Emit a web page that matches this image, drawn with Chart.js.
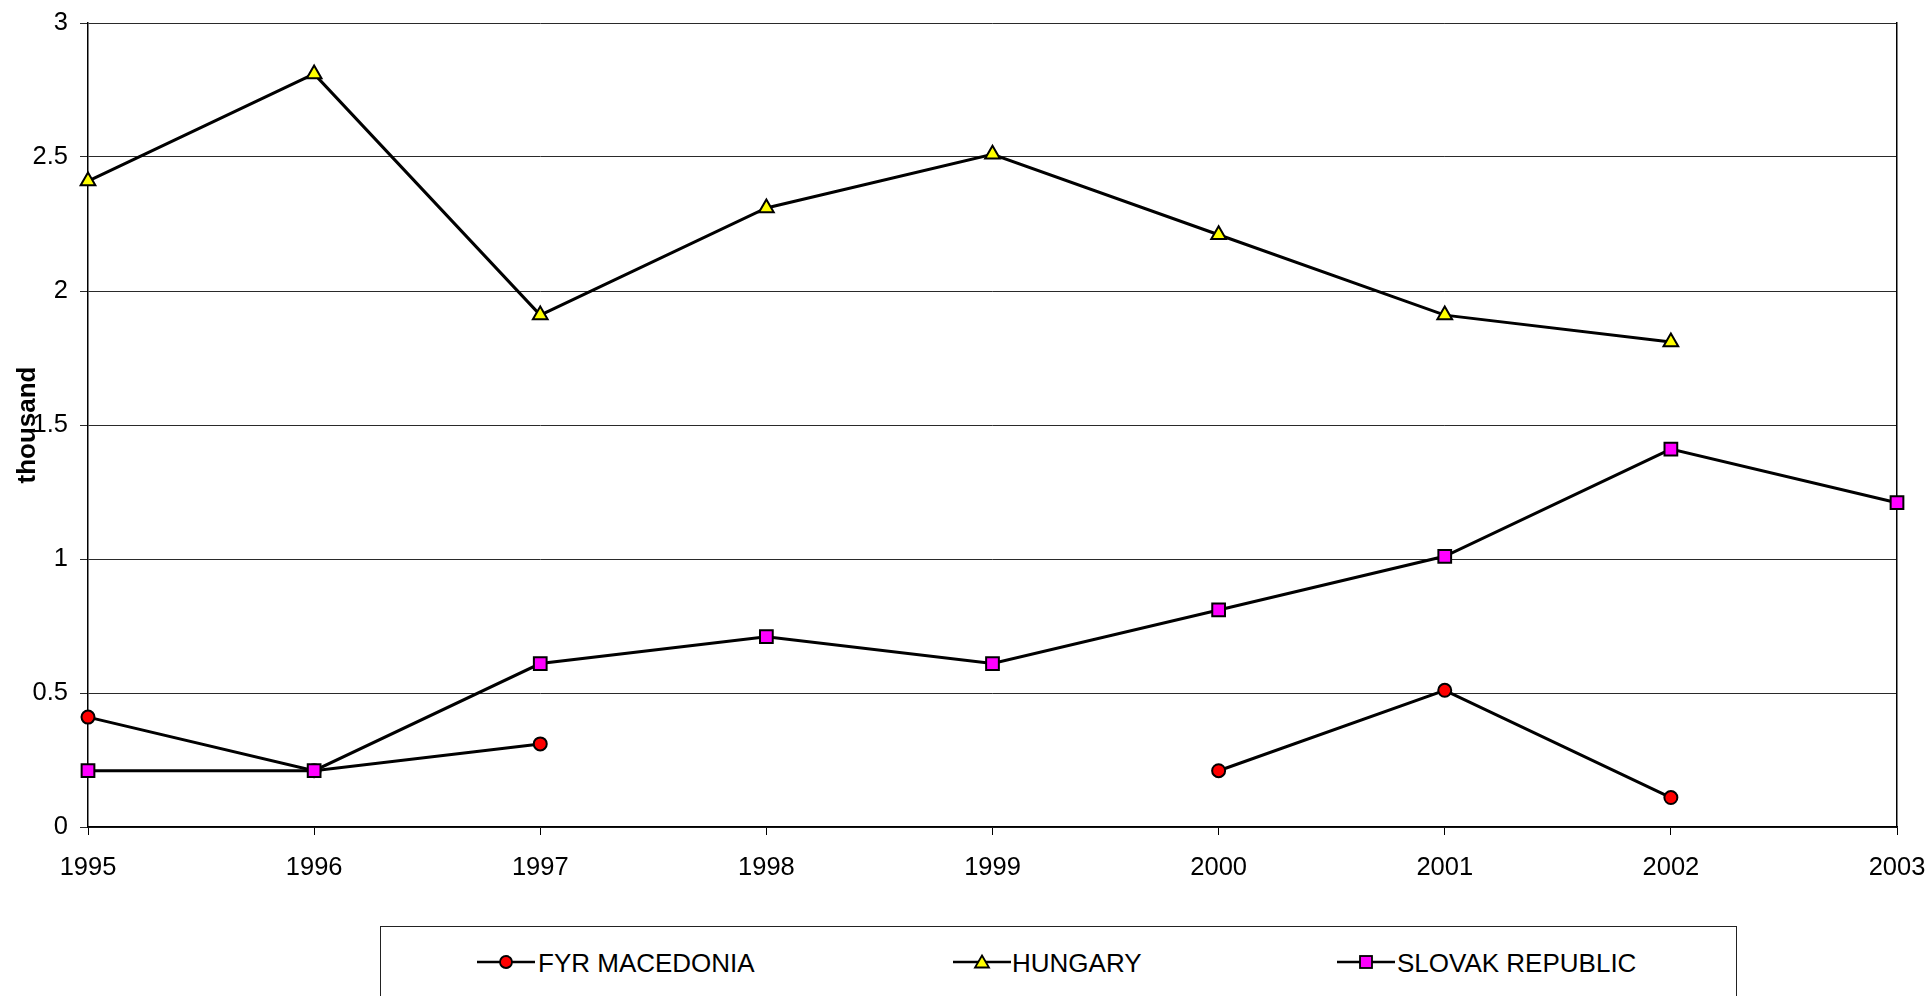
<!DOCTYPE html>
<html>
<head>
<meta charset="utf-8">
<script src="https://cdn.jsdelivr.net/npm/chart.js@4.4.1/dist/chart.umd.min.js"></script>
<style>
  html, body { margin: 0; padding: 0; background: #fff; width: 1930px; height: 996px; overflow: hidden; }
  #wrap { position: absolute; left: 0; top: 0; width: 1930px; height: 996px; }
  #legendBox { position: absolute; left: 380px; top: 926px; width: 1355px; height: 120px; border: 1px solid #222; box-sizing: content-box; }
  .lg { position: absolute; font-family: "Liberation Sans", Arial, sans-serif; font-size: 26px; line-height: 30px; color: #000; white-space: nowrap; }
  .sym { position: absolute; }
  canvas { position: absolute; left: 0; top: 0; }
</style>
</head>
<body>
<div id="wrap">
  <div id="legendBox"></div>
  <div id="legendItems"></div>
  <canvas id="c" width="1930" height="996"></canvas>
</div>
<script>
// ---- data ----
const years = ['1995', '1996', '1997', '1998', '1999', '2000', '2001', '2002', '2003'];
const macedonia = [0.41, 0.21, 0.31, null, null, 0.21, 0.51, 0.11, null];
const hungary = [2.41, 2.81, 1.91, 2.31, 2.51, 2.21, 1.91, 1.81, null];
const slovakia = [0.21, 0.21, 0.61, 0.71, 0.61, 0.81, 1.01, 1.41, 1.21];
const seriesNames = ['FYR MACEDONIA', 'HUNGARY', 'SLOVAK REPUBLIC'];
const yTicks = [0, 0.5, 1, 1.5, 2, 2.5, 3];

const FONT = '"Liberation Sans", Arial, sans-serif';

// ---- legend (HTML) ----
const legendLayout = [
  { sym: 477, text: 538, style: 'circle', fill: '#ff0000' },
  { sym: 953, text: 1012, style: 'triangle', fill: '#ffff00' },
  { sym: 1337, text: 1397, style: 'rect', fill: '#ff00ff' }
];
const li = document.getElementById('legendItems');
legendLayout.forEach((L, i) => {
  const w = 58, h = 20, cx = w / 2, cy = h / 2;
  let marker = '';
  if (L.style === 'circle') marker = `<circle cx="${cx}" cy="${cy}" r="6" fill="${L.fill}" stroke="#000" stroke-width="1.8"/>`;
  if (L.style === 'triangle') marker = `<polygon points="${cx},${cy-6.5} ${cx+7},${cy+5.5} ${cx-7},${cy+5.5}" fill="${L.fill}" stroke="#000" stroke-width="1.8"/>`;
  if (L.style === 'rect') marker = `<rect x="${cx-6}" y="${cy-6}" width="12" height="12" fill="${L.fill}" stroke="#000" stroke-width="1.8"/>`;
  const s = document.createElement('div');
  s.className = 'sym';
  s.style.left = L.sym + 'px';
  s.style.top = (962 - cy) + 'px';
  s.innerHTML = `<svg width="${w}" height="${h}"><line x1="0" y1="${cy}" x2="${w}" y2="${cy}" stroke="#000" stroke-width="2.5"/>${marker}</svg>`;
  li.appendChild(s);
  const t = document.createElement('div');
  t.className = 'lg';
  t.style.left = L.text + 'px';
  t.style.top = '948px';
  t.textContent = seriesNames[i];
  li.appendChild(t);
});

// ---- chart ----
const ctx = document.getElementById('c').getContext('2d');
new Chart(ctx, {
  type: 'line',
  data: {
    labels: years,
    datasets: [
      {
        label: seriesNames[0], data: macedonia, order: 2,
        borderColor: '#000', borderWidth: 3, tension: 0, spanGaps: false,
        pointStyle: 'circle', pointRadius: 6.5, pointBorderWidth: 2,
        pointBackgroundColor: '#ff0000', pointBorderColor: '#000'
      },
      {
        label: seriesNames[1], data: hungary, order: 1,
        borderColor: '#000', borderWidth: 3, tension: 0, spanGaps: false,
        pointStyle: 'triangle', pointRadius: 8.5, pointBorderWidth: 2,
        pointBackgroundColor: '#ffff00', pointBorderColor: '#000'
      },
      {
        label: seriesNames[2], data: slovakia, order: 0,
        borderColor: '#000', borderWidth: 3, tension: 0, spanGaps: false,
        pointStyle: 'rect', pointRadius: 9, pointBorderWidth: 2,
        pointBackgroundColor: '#ff00ff', pointBorderColor: '#000'
      }
    ]
  },
  options: {
    responsive: false,
    animation: false,
    devicePixelRatio: 1,
    layout: { padding: { left: 0, right: 33, top: 23, bottom: 109 } },
    plugins: { legend: { display: false }, tooltip: { enabled: false } },
    scales: {
      x: {
        type: 'category',
        offset: false,
        grid: { display: true, drawOnChartArea: false, drawTicks: true, tickLength: 8, color: '#000', lineWidth: 1 },
        border: { display: true, color: '#000', width: 1.5 },
        ticks: { color: '#000', font: { family: FONT, size: 25.5 }, padding: 18, maxRotation: 0, autoSkip: false },
        afterFit: (s) => { s.height = 60; s.paddingLeft = 0; s.paddingRight = 0; }
      },
      y: {
        min: 0, max: 3,
        afterBuildTicks: (s) => { s.ticks = yTicks.map(v => ({ value: v })); },
        grid: { display: true, drawTicks: true, tickLength: 8, color: '#2a2a2a', lineWidth: 1 },
        border: { display: true, color: '#000', width: 1.5 },
        ticks: { color: '#000', font: { family: FONT, size: 25.5 }, padding: 12, callback: (v) => String(v) },
        title: { display: true, text: 'thousand', color: '#000', font: { family: FONT, size: 26, weight: 'bold' }, padding: { top: 12, bottom: 0 } },
        afterFit: (s) => { s.width = 88; s.paddingTop = 0; s.paddingBottom = 0; }
      },
      yRight: {
        position: 'right', min: 0, max: 3,
        grid: { display: false, drawTicks: false },
        border: { display: true, color: '#000', width: 1.5 },
        ticks: { display: false },
        afterFit: (s) => { s.width = 0; s.paddingTop = 0; s.paddingBottom = 0; }
      }
    }
  }
});
</script>
</body>
</html>
